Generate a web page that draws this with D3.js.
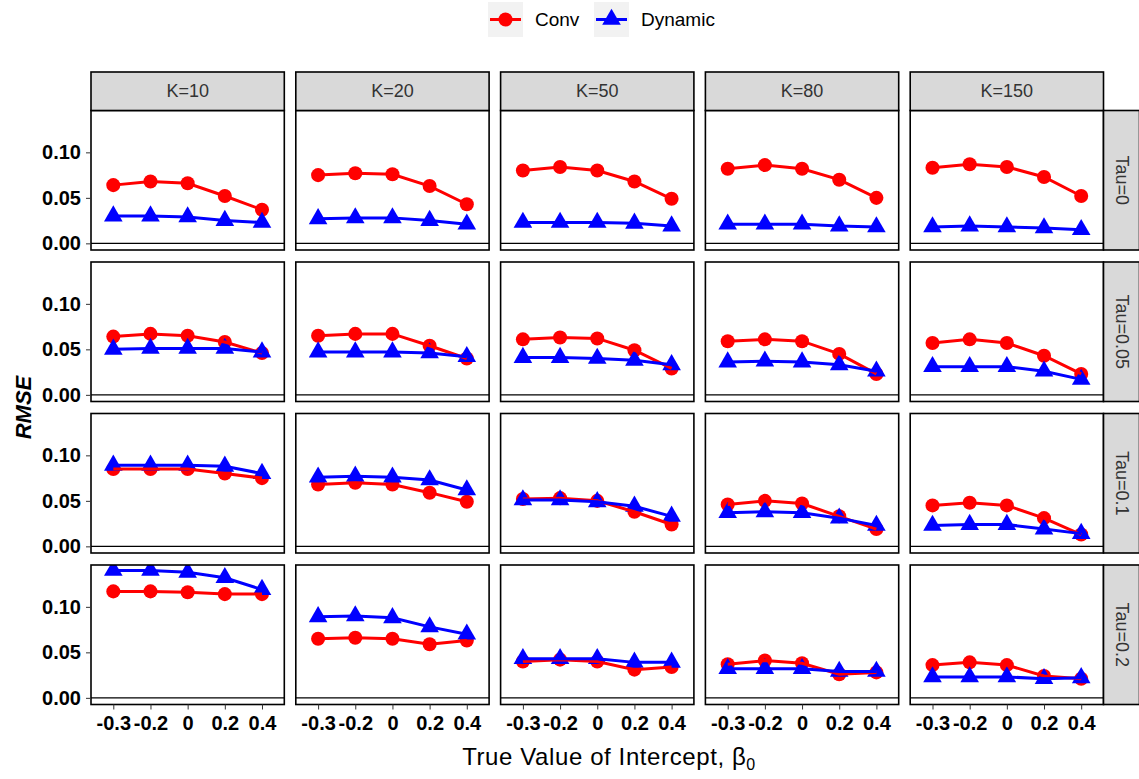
<!DOCTYPE html>
<html>
<head>
<meta charset="utf-8">
<script src="https://cdn.jsdelivr.net/npm/d3@7"></script>
<style>
    body { margin: 0; background: #fff; }
    svg { font-family: Arial, "Liberation Sans", sans-serif; }
</style>
</head>
<body>
<div id="rmse_chart"></div>
<script>
// Facet labels and x categories
var xLabels = ["-0.3", "-0.2", "0", "0.2", "0.4"];
var kLabels = ["K=10", "K=20", "K=50", "K=80", "K=150"];
var tauLabels = ["Tau=0", "Tau=0.05", "Tau=0.1", "Tau=0.2"];
var seriesNames = ["Conv", "Dynamic"];
var yTicks = [0, 0.05, 0.10];

// RMSE values, conv[tau][k][x]
var conv = [
    [[0.064, 0.068, 0.066, 0.052, 0.037],
     [0.075, 0.077, 0.076, 0.063, 0.043],
     [0.080, 0.084, 0.080, 0.068, 0.049],
     [0.082, 0.086, 0.082, 0.070, 0.050],
     [0.083, 0.087, 0.084, 0.073, 0.052]],
    [[0.064, 0.067, 0.065, 0.058, 0.046],
     [0.065, 0.067, 0.067, 0.054, 0.040],
     [0.061, 0.063, 0.062, 0.049, 0.029],
     [0.059, 0.061, 0.059, 0.045, 0.023],
     [0.057, 0.061, 0.057, 0.043, 0.023]],
    [[0.085, 0.085, 0.085, 0.080, 0.075],
     [0.068, 0.070, 0.068, 0.059, 0.049],
     [0.052, 0.053, 0.050, 0.038, 0.024],
     [0.046, 0.050, 0.047, 0.033, 0.019],
     [0.045, 0.048, 0.045, 0.031, 0.013]],
    [[0.117, 0.117, 0.116, 0.114, 0.114],
     [0.065, 0.066, 0.065, 0.059, 0.063],
     [0.040, 0.042, 0.040, 0.031, 0.034],
     [0.037, 0.041, 0.038, 0.026, 0.028],
     [0.036, 0.039, 0.036, 0.024, 0.021]]
];

// RMSE values, dynamic[tau][k][x]
var dynamic = [
    [[0.030, 0.030, 0.029, 0.025, 0.023],
     [0.027, 0.028, 0.028, 0.025, 0.021],
     [0.023, 0.023, 0.023, 0.022, 0.019],
     [0.021, 0.021, 0.021, 0.019, 0.018],
     [0.018, 0.019, 0.018, 0.017, 0.015]],
    [[0.050, 0.051, 0.051, 0.051, 0.047],
     [0.047, 0.047, 0.047, 0.046, 0.042],
     [0.041, 0.041, 0.040, 0.038, 0.033],
     [0.036, 0.037, 0.036, 0.033, 0.026],
     [0.031, 0.031, 0.031, 0.026, 0.017]],
    [[0.089, 0.089, 0.089, 0.088, 0.080],
     [0.076, 0.077, 0.076, 0.073, 0.062],
     [0.051, 0.051, 0.049, 0.044, 0.033],
     [0.037, 0.038, 0.037, 0.031, 0.023],
     [0.023, 0.024, 0.024, 0.019, 0.014]],
    [[0.140, 0.140, 0.138, 0.132, 0.119],
     [0.089, 0.090, 0.088, 0.078, 0.070],
     [0.043, 0.043, 0.043, 0.039, 0.039],
     [0.032, 0.032, 0.032, 0.029, 0.029],
     [0.023, 0.023, 0.023, 0.021, 0.022]]
];

var colors = { Conv: "#ff0000", Dynamic: "#0000ff" };

function create_rmse_chart(width, height) {
    var margin = { left: 91, top: 110.5 };
    var panelW = 193.3, panelH = 139.5;
    var stepX = 204.8, stepY = 151.5;
    var stripH = 38.5, stripW = 36;

    var svg = d3.select("#rmse_chart").append("svg")
        .attr("width", width)
        .attr("height", height);

    // Shared scales for every facet
    var x = d3.scalePoint().domain(xLabels).range([0, panelW]).padding(0.6);
    var y = d3.scaleLinear().domain([-0.0073, 0.146]).range([panelH, 0]);

    var line = d3.line()
        .x((d, i) => x(xLabels[i]))
        .y(d => y(d));

    var circle = d3.symbol().type(d3.symbolCircle).size(155);
    var triangle = d3.symbol().type(d3.symbolTriangle).size(150);

    tauLabels.forEach(function (tau, r) {
        kLabels.forEach(function (k, c) {
            var g = svg.append("g")
                .attr("transform", "translate(" + (margin.left + c * stepX) + "," + (margin.top + r * stepY) + ")");

            var clipId = "clip-" + r + "-" + c;
            g.append("clipPath").attr("id", clipId)
                .append("rect").attr("width", panelW).attr("height", panelH);

            g.append("rect")
                .attr("width", panelW).attr("height", panelH)
                .attr("fill", "#fff");

            // zero reference line
            g.append("line")
                .attr("x1", 0).attr("x2", panelW)
                .attr("y1", y(0)).attr("y2", y(0))
                .attr("stroke", "#000").attr("stroke-width", 1.3);

            var plot = g.append("g").attr("clip-path", "url(#" + clipId + ")");

            // points first, then lines on top
            plot.selectAll(".conv-pt")
                .data(conv[r][c])
                .enter().append("path")
                .attr("transform", (d, i) => "translate(" + x(xLabels[i]) + "," + y(d) + ")")
                .attr("d", circle)
                .attr("fill", colors.Conv);
            plot.selectAll(".dyn-pt")
                .data(dynamic[r][c])
                .enter().append("path")
                .attr("transform", (d, i) => "translate(" + x(xLabels[i]) + "," + y(d) + ")")
                .attr("d", triangle)
                .attr("fill", colors.Dynamic);

            plot.append("path")
                .attr("d", line(conv[r][c]))
                .attr("fill", "none")
                .attr("stroke", colors.Conv)
                .attr("stroke-width", 3);
            plot.append("path")
                .attr("d", line(dynamic[r][c]))
                .attr("fill", "none")
                .attr("stroke", colors.Dynamic)
                .attr("stroke-width", 3);

            // panel border
            g.append("rect")
                .attr("width", panelW).attr("height", panelH)
                .attr("fill", "none")
                .attr("stroke", "#000").attr("stroke-width", 1.6);

            // y axis on first column
            if (c === 0) {
                var yAxis = g.append("g")
                    .call(d3.axisLeft(y).tickValues(yTicks).tickFormat(d3.format(".2f")).tickSize(5).tickPadding(5));
                yAxis.select(".domain").remove();
                yAxis.selectAll("line").attr("stroke", "#333");
                yAxis.selectAll("text")
                    .attr("fill", "#000")
                    .style("font-size", "20px")
                    .style("font-weight", "bold")
                    .style("font-family", "Arial, 'Liberation Sans', sans-serif");
            }

            // x axis on last row
            if (r === tauLabels.length - 1) {
                var xAxis = g.append("g")
                    .attr("transform", "translate(0," + panelH + ")")
                    .call(d3.axisBottom(x).tickSize(5).tickPadding(6));
                xAxis.select(".domain").remove();
                xAxis.selectAll("line").attr("stroke", "#333");
                xAxis.selectAll("text")
                    .attr("fill", "#000")
                    .style("font-size", "20px")
                    .style("font-weight", "bold")
                    .style("font-family", "Arial, 'Liberation Sans', sans-serif");
            }

            // top strip
            if (r === 0) {
                g.append("rect")
                    .attr("y", -stripH).attr("width", panelW).attr("height", stripH)
                    .attr("fill", "#d9d9d9")
                    .attr("stroke", "#000").attr("stroke-width", 1.6);
                g.append("text")
                    .attr("x", panelW / 2).attr("y", -stripH / 2)
                    .attr("text-anchor", "middle")
                    .attr("dominant-baseline", "central")
                    .attr("fill", "#333")
                    .style("font-size", "18px")
                    .text(k);
            }

            // right strip
            if (c === kLabels.length - 1) {
                g.append("rect")
                    .attr("x", panelW).attr("width", stripW).attr("height", panelH)
                    .attr("fill", "#d9d9d9")
                    .attr("stroke", "#000").attr("stroke-width", 1.6);
                g.append("text")
                    .attr("transform", "translate(" + (panelW + stripW / 2) + "," + (panelH / 2) + ") rotate(90)")
                    .attr("text-anchor", "middle")
                    .attr("dominant-baseline", "central")
                    .attr("fill", "#333")
                    .style("font-size", "18px")
                    .text(tau);
            }
        });
    });

    // y axis title
    svg.append("text")
        .attr("transform", "translate(31," + (margin.top + (3 * stepY + panelH) / 2) + ") rotate(-90)")
        .attr("text-anchor", "middle")
        .style("font-size", "22px")
        .style("font-weight", "bold")
        .style("font-style", "italic")
        .text("RMSE");

    // x axis title with subscript
    var xTitle = svg.append("text")
        .attr("x", 609)
        .attr("y", 765)
        .attr("text-anchor", "middle")
        .style("font-size", "24px")
        .style("letter-spacing", "0.6px");
    xTitle.append("tspan").text("True Value of Intercept, \u03b2");
    xTitle.append("tspan").attr("dy", 5).style("font-size", "16px").text("0");

    // legend
    var legendX = [488, 594];
    var legend = svg.selectAll(".legend")
        .data(seriesNames)
        .enter().append("g")
        .attr("class", "legend")
        .attr("transform", (d, i) => "translate(" + legendX[i] + ",2)");

    legend.append("rect")
        .attr("width", 35).attr("height", 35)
        .attr("fill", "#f2f2f2");
    legend.append("line")
        .attr("x1", 2).attr("x2", 33)
        .attr("y1", 17.5).attr("y2", 17.5)
        .attr("stroke", d => colors[d])
        .attr("stroke-width", 3);
    legend.append("path")
        .attr("transform", "translate(17.5,17.5)")
        .attr("d", d => d === "Conv" ? circle() : triangle())
        .attr("fill", d => colors[d]);
    legend.append("text")
        .attr("x", 47).attr("y", 17.5)
        .attr("dominant-baseline", "central")
        .style("font-size", "19px")
        .text(d => d);
}

create_rmse_chart(1139, 779);
</script>
</body>
</html>
